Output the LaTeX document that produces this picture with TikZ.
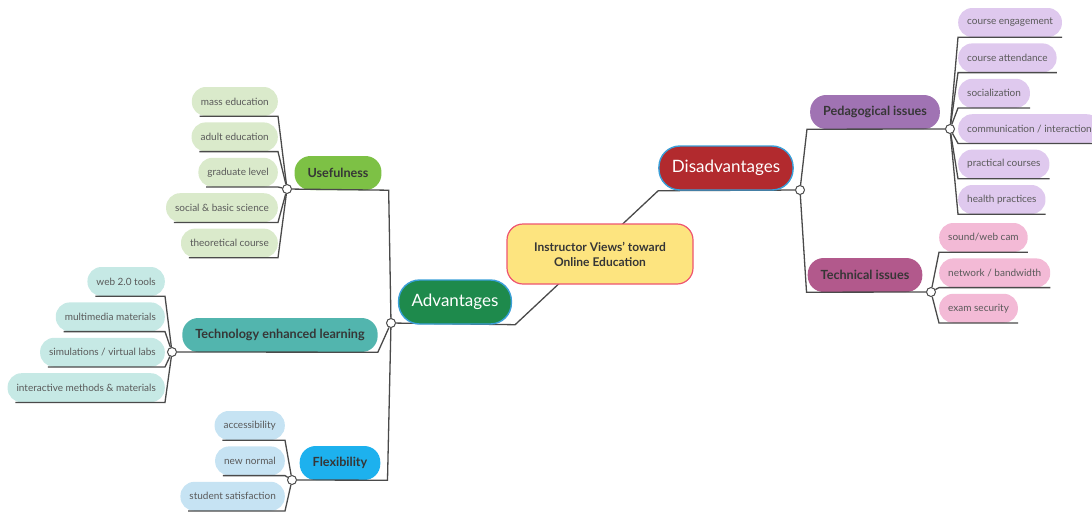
\documentclass[tikz,border=0pt]{standalone}
\usepackage{fontspec}
\setmainfont{Lato}
\usepackage{tikz}
\usetikzlibrary{positioning}
\usetikzlibrary{backgrounds}
\definecolor{linegray}{HTML}{4A4A4A}
\definecolor{leaftext}{HTML}{5A5A5A}
\definecolor{branchtext}{HTML}{363636}
\definecolor{mainborder}{HTML}{3A9FD8}
\definecolor{rootfill}{HTML}{FDE47F}
\definecolor{rootborder}{HTML}{EE5470}
\definecolor{disfill}{HTML}{B22A2E}
\definecolor{advfill}{HTML}{1E8A4C}
\definecolor{usefill}{HTML}{7DC145}
\definecolor{techfill}{HTML}{52B5AE}
\definecolor{flexfill}{HTML}{1DB1EE}
\definecolor{pedfill}{HTML}{A073B3}
\definecolor{tecfill}{HTML}{B2598C}
\definecolor{useleaf}{HTML}{DAEACB}
\definecolor{techleaf}{HTML}{C6E9E5}
\definecolor{flexleaf}{HTML}{C6E3F3}
\definecolor{pedleaf}{HTML}{DFC9EE}
\definecolor{tecleaf}{HTML}{F3BAD6}
\tikzset{
  leaf/.style={rounded corners=14pt, minimum height=29pt, inner xsep=9pt, inner ysep=0pt,
    font=\fontsize{10}{12}\selectfont, text=leaftext},
  branch/.style={rounded corners=16pt, minimum height=34pt, inner xsep=13pt, inner ysep=0pt,
    font=\bfseries\fontsize{12.6}{15}\selectfont, text=branchtext},
  side/.style={rounded corners=21pt, minimum height=44pt, inner xsep=13pt, inner ysep=0pt,
    draw=mainborder, line width=1.4pt, text=white, font=\fontsize{17}{20}\selectfont},
  knot/.style={circle, draw=linegray, fill=white, line width=1pt, minimum size=9pt, inner sep=0pt},
  link/.style={draw=linegray, line width=1.3pt},
}

\begin{document}
\begin{tikzpicture}[x=1pt, y=-1pt]
  \useasboundingbox (0,0) rectangle (1092,515);

  \node(root) [fill=rootfill, draw=rootborder, line width=1.2pt, rounded corners=16pt,
    minimum width=186pt, minimum height=60pt, align=center, text=branchtext,
    font=\bfseries\fontsize{12}{15}\selectfont] at (600,254) {Instructor Views' toward\\Online Education};
  \node(dis) [side, fill=disfill] at (726,168) {Disadvantages};
  \node(adv) [side, fill=advfill] at (455,302) {Advantages};

  \node(use) [branch, fill=usefill] at (338,173) {Usefulness};
  \node(tech) [branch, fill=techfill] at (280,335) {Technology enhanced learning};
  \node(flex) [branch, fill=flexfill] at (340,463) {Flexibility};
  \node(ped) [branch, fill=pedfill] at (875,112) {Pedagogical issues};
  \node(tec) [branch, fill=tecfill] at (865,275) {Technical issues};

  \node(u1) [leaf, fill=useleaf, anchor=east] at (278,101.5) {mass education};
  \node(u2) [leaf, fill=useleaf, below=6pt of u1.south east, anchor=north east] {adult education};
  \node(u3) [leaf, fill=useleaf, below=6pt of u2.south east, anchor=north east] {graduate level};
  \node(u4) [leaf, fill=useleaf, below=6pt of u3.south east, anchor=north east] {social \& basic science};
  \node(u5) [leaf, fill=useleaf, below=6pt of u4.south east, anchor=north east] {theoretical course};

  \node(t1) [leaf, fill=techleaf, anchor=east] at (165,281.5) {web 2.0 tools};
  \node(t2) [leaf, fill=techleaf, below=6pt of t1.south east, anchor=north east] {multimedia materials};
  \node(t3) [leaf, fill=techleaf, below=6pt of t2.south east, anchor=north east] {simulations / virtual labs};
  \node(t4) [leaf, fill=techleaf, below=6pt of t3.south east, anchor=north east] {interactive methods \& materials};

  \node(f1) [leaf, fill=flexleaf, anchor=east] at (285,425.5) {accessibility};
  \node(f2) [leaf, fill=flexleaf, below=6pt of f1.south east, anchor=north east] {new normal};
  \node(f3) [leaf, fill=flexleaf, below=6pt of f2.south east, anchor=north east] {student satisfaction};

  \node(p1) [leaf, fill=pedleaf, anchor=west] at (958,22.5) {course engagement};
  \node(p2) [leaf, fill=pedleaf, below=6pt of p1.south west, anchor=north west] {course attendance};
  \node(p3) [leaf, fill=pedleaf, below=6pt of p2.south west, anchor=north west] {socialization};
  \node(p4) [leaf, fill=pedleaf, below=6pt of p3.south west, anchor=north west] {communication / interaction};
  \node(p5) [leaf, fill=pedleaf, below=6pt of p4.south west, anchor=north west] {practical courses};
  \node(p6) [leaf, fill=pedleaf, below=6pt of p5.south west, anchor=north west] {health practices};

  \node(s1) [leaf, fill=tecleaf, anchor=west] at (939,237.5) {sound/web cam};
  \node(s2) [leaf, fill=tecleaf, below=6pt of s1.south west, anchor=north west] {network / bandwidth};
  \node(s3) [leaf, fill=tecleaf, below=6pt of s2.south west, anchor=north west] {exam security};

  \node(advc) [knot] at (391,323) {};
  \node(disc) [knot] at (800,190) {};
  \node(usec) [knot] at (287,189) {};
  \node(techc) [knot] at (172,352) {};
  \node(flexc) [knot] at (292,480) {};
  \node(pedc) [knot] at (950,129) {};
  \node(tecc) [knot] at (931,292) {};

  \begin{pgfonlayer}{background}
    \draw[link](advc) -- ([xshift=3pt]adv.south east) -- (dis.south west) -- (disc);
  \end{pgfonlayer}

  \draw[link](advc) -- ([xshift=7pt]use.south east) -- (usec);
  \draw[link](advc) -- (tech.south east) -- (techc);
  \draw[link](advc) -- ([xshift=7pt]flex.south east) -- (flexc);
  \draw[link](disc) -- ([xshift=-3pt]ped.south west) -- (pedc);
  \draw[link](disc) -- ([xshift=-1pt]tec.south west) -- (tecc);

  \foreach \n in {u1,u2,u3,u4,u5}
    \draw[link](usec) -- (\n.south east) -- ([xshift=8pt]\n.south west);
  \foreach \n in {t1,t2,t3,t4}
    \draw[link](techc) -- (\n.south east) -- ([xshift=8pt]\n.south west);
  \foreach \n in {f1,f2,f3}
    \draw[link](flexc) -- (\n.south east) -- ([xshift=8pt]\n.south west);
  \foreach \n in {p1,p2,p3,p4,p5,p6}
    \draw[link](pedc) -- (\n.south west) -- (\n.south east);
  \foreach \n in {s1,s2,s3}
    \draw[link](tecc) -- (\n.south west) -- (\n.south east);
\end{tikzpicture}
\end{document}
